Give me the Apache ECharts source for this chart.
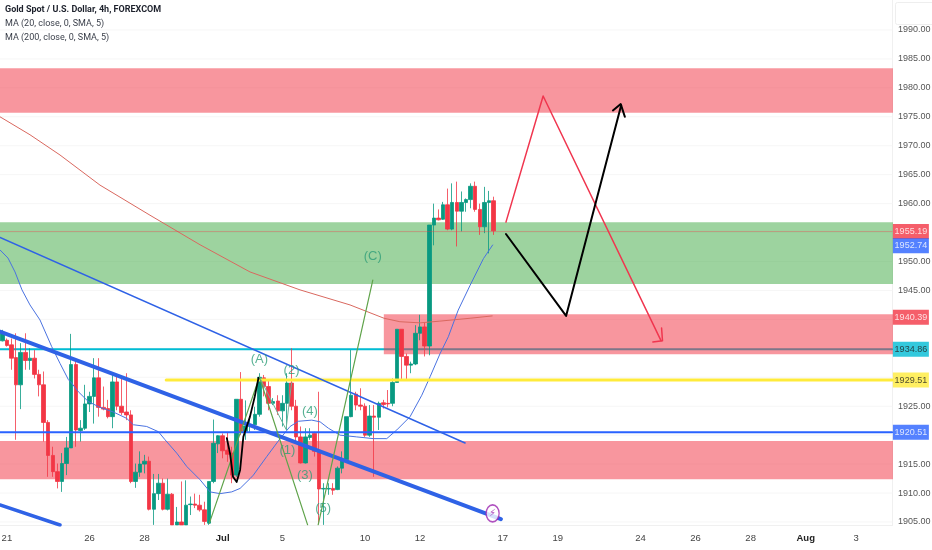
<!DOCTYPE html>
<html><head><meta charset="utf-8">
<style>html,body{margin:0;padding:0;background:#fff}#c{width:932px;height:550px}</style>
<script src="https://cdn.jsdelivr.net/npm/echarts@6/dist/echarts.min.js"></script>
</head><body><div id="c"></div>
<script>
// [open, close, low, high]
const candles = [
[1936.3,1937.6,1936.2,1938.2],[1936.4,1935.5,1935.3,1936.7],[1935.6,1933.3,1931.3,1936.7],[1933.4,1928.7,1919.2,1937.6],
[1928.7,1934.3,1924.5,1935.9],[1934.3,1932.9,1931.3,1937.6],[1932.9,1933.3,1931.3,1935.0],[1933.3,1930.5,1929.8,1934.7],
[1930.5,1928.7,1926.7,1931.3],[1928.7,1922.2,1918.9,1931],[1922.2,1916.5,1912.8,1922.6],[1916.5,1913.7,1912.8,1918],
[1913.7,1912,1910.8,1915.1],[1912,1915.1,1910.2,1916.9],[1915.1,1917.8,1913.1,1919.7],[1917.8,1932.2,1917.8,1937.5],
[1932.2,1920.9,1918,1933],[1920.8,1921.2,1918.9,1922.6],[1921.2,1925.4,1920.9,1928.7],[1925.4,1926.7,1924,1927.5],
[1926.7,1929.9,1922,1933.3],[1929.9,1924.8,1923.2,1933.3],[1924.8,1924.5,1924.3,1928.4],[1924.6,1923.2,1922.9,1926.1],
[1923.2,1929.2,1921.2,1930.4],[1929.2,1925,1924.3,1930.4],[1925,1923.9,1923.5,1930.1],[1924,1923.5,1922.6,1930.7],
[1923.5,1912,1911.7,1924.3],[1912,1913.6,1910.9,1915.1],[1913.6,1915,1912.8,1917.2],[1915,1915.5,1913.4,1916.6],
[1915.5,1907.2,1907,1916.3],[1907.2,1909.9,1904.5,1913.3],[1909.9,1911.7,1908.8,1913.3],[1911.7,1907.2,1907,1912.5],
[1907.2,1909.8,1907,1912.5],[1909.8,1904.5,1904.5,1910],[1904.5,1905,1904.5,1907.6],[1905,1904.5,1904.5,1912],
[1904.5,1907.9,1904.5,1912.2],[1908,1908.1,1906.2,1909.4],[1908.1,1907.9,1907.4,1909.9],[1907.9,1907.1,1906.8,1909.7],
[1907.1,1905.1,1904.5,1908.5],[1904.8,1912,1904.5,1912],[1912,1918.6,1911.7,1922.7],[1918.5,1919.9,1916.9,1920],
[1919.9,1917.3,1916,1920.3],[1917.4,1916.7,1915.4,1920.4],[1916.9,1913.1,1911.7,1918],[1913.1,1926.2,1912.8,1926.2],
[1926.2,1920.6,1920,1930.9],[1920.6,1921.6,1919.2,1926],[1921.6,1921.8,1920.5,1923],[1921.8,1923.6,1920.9,1924.9],
[1923.6,1930,1923.2,1930.7],[1929.9,1928.4,1926.7,1930.4],[1928.4,1925.5,1924.3,1929.5],[1925.5,1925.8,1925.2,1926.4],
[1925.9,1924.2,1923.5,1926.9],[1924.2,1925.5,1921.5,1926.9],[1925.5,1929,1920.9,1930.7],[1929,1925,1924.3,1935],
[1925,1919.7,1918.6,1926.1],[1919.7,1915.2,1915.1,1921.5],[1915.2,1919.7,1915.1,1921.2],[1919.6,1920,1919.2,1921.2],
[1920.3,1917.2,1916.3,1920.6],[1917.2,1910.7,1904.8,1927.5],[1910.7,1910.8,1904.5,1911.7],[1910.7,1910.8,1909.7,1911.7],
[1910.8,1910.5,1909.7,1911.7],[1910.6,1914.3,1910.5,1914.6],[1914.3,1915.8,1913.4,1917.2],[1915.8,1923.2,1915.7,1923.2],
[1923.2,1926.9,1923.1,1934.7],[1927.1,1925.2,1924.3,1927.5],[1925.2,1925,1924.3,1928.1],[1925,1920,1919.7,1925.5],
[1920,1923.3,1919.7,1925.2],[1923.3,1923.1,1912.8,1925.2],[1923.1,1925.5,1920.9,1925.8],[1925.6,1925.3,1924.6,1926.1],
[1925.5,1925.4,1924.8,1927.8],[1925.5,1929.1,1925,1929.8],[1929.1,1938.3,1929.1,1938.3],[1938.3,1933.6,1929.5,1938.3],
[1933.6,1932.1,1929.5,1934.1],[1932.1,1932.3,1930.7,1932.7],[1932.3,1937.6,1932.1,1939],[1937.6,1938.7,1936.4,1940.8],
[1938.7,1935.4,1933.6,1939.4],[1935.4,1956.3,1933.8,1956.3],[1956.3,1957.5,1952.8,1960],[1957.5,1957.2,1957.1,1959],
[1957.3,1959.8,1957.2,1960.3],[1959.8,1955.6,1955.4,1962.6],[1955.6,1960.2,1955.4,1963.5],[1960.2,1958.7,1952.6,1963.8],
[1958.7,1960.2,1955.2,1962.1],[1960.2,1960.7,1958.6,1960.9],[1960.7,1963,1959.2,1963.5],[1963,1959,1958.6,1963.8],
[1959,1956,1954.6,1960],[1956,1960.2,1954.9,1962.9],[1960.2,1960.5,1951.4,1962.2],[1960.5,1955.3,1954.6,1961.2]];
const slotCount = 203;
const xTickSlots = [1,19,31,48,61,79,91,109,121,139,151,163,175,186];
const xTickLabels = ['21','26','28','Jul','5','10','12','17','19','24','26','28','Aug','3'];
const yGridValues = [1905,1910,1915,1920,1925,1930,1935,1940,1945,1950,1955,1960,1965,1970,1975,1980,1985,1990];
const yTickLabels = [1905,1910,1915,1925,1945,1950,1960,1965,1970,1975,1980,1985,1990];
const ma20 = [[0,1952],[1.74,1950.6],[3.27,1948.2],[4.79,1945.1],[6.53,1942.5],[8.71,1939.9],[11.26,1935.3],[13.07,1932.4],[14.89,1929.6],[15.6,1929],[17.07,1927.5],[19.24,1925.8],[21.79,1924.8],[24.69,1924],[27.6,1922.9],[29.05,1921.8],[31.95,1921.5],[34.5,1920.6],[35.95,1919.2],[38.49,1916.9],[40.67,1914.6],[43.57,1912.3],[45.75,1910.2],[47.93,1909.9],[50.47,1910.2],[52.29,1910.8],[54.47,1912.5],[55.19,1913.1],[58.1,1916.3],[61,1919.4],[63.18,1921.5],[65,1922.4],[67.9,1922.6],[69.72,1922.3],[71.53,1921.2],[74.07,1920],[77.7,1919.7],[81.34,1919.4],[84.24,1919.4],[86.42,1920.9],[89.32,1923.2],[91.87,1926.9],[93.68,1930.1],[95.86,1934.1],[97.65,1937],[99.8,1941.6],[102.4,1945.9],[105.3,1950.5],[107.3,1952.85]];
const ma200 = [[0,1975],[6.53,1971.9],[13.07,1968.4],[21.78,1963.2],[32.67,1958],[43.56,1952.9],[54.45,1948.2],[65.35,1945.1],[76.24,1942.5],[83.64,1940.2],[87.1,1939.6],[91.5,1939.4],[95.8,1939.7],[102.4,1940.2],[107.2,1940.6]];
const thickTrend = [[0,1937.87],[109.1,1905.5]];
const lowerTrend = [[0,1907.93],[13.07,1904.48]];
const thinTrend = [[0,1954.15],[101.3,1918.64]];
const greenWaveDown = [[45.6,1904.8],[56.5,1930.05],[67,1904.5]];
const greenWaveUp = [[69.3,1904.5],[81.2,1946.8]];
const paleWave = [[56.5,1930.05],[62.3,1921],[63.5,1929]];
const blackCurve = [[49.4,1919.5],[50.1,1916.9],[50.75,1912.8],[51.55,1911.9],[52.3,1914],[53,1919.7],[54.45,1923.2],[55.5,1926.7],[56.3,1929.9]];
const redPath = [[110.2,1956.8],[118.3,1978.6],[144,1936.3]];
const redHead = [[142.2,1936.1],[144.3,1936.3],[144.1,1938.5]];
const blackPath = [[110.2,1954.75],[123.3,1940.6],[135.3,1977]];
const blackHead = [[133.5,1976.1],[135.2,1977.2],[136.1,1975]];
const hLineEnd = 194.3;
const cyanLevel = 1934.86, yellowLevel = 1929.51, blueLevel = 1920.51, lastClose = 1955.19, maLast = 1952.74, maPrev = 1940.39;
const redZones = [[0,194.5,1983.4,1975.7],[83.6,194.5,1940.9,1933.97],[0,194.5,1919,1912.4]];
const greenZones = [[0,194.5,1956.8,1946.1]];
const waveText = [['(A)',56.5,1933.1],['(2)',63.5,1931.2],['(4)',67.5,1924.1],['(1)',62.6,1917.3],['(3)',66.4,1913],['(5)',70.4,1907.3],['(C)',81.2,1950.8]];
const priceTags = [[lastClose,'#f23645','#fff'],[maLast,'#2962ff','#fff'],[maPrev,'#f23645','#fff'],[cyanLevel,'#00bcd4','#222'],[yellowLevel,'#ffeb3b','#222'],[blueLevel,'#2962ff','#fff']];
const tagSlot = 198.4;
const iconPoint = [107.3,1906.5];
const legendLines = ['Gold Spot / U.S. Dollar, 4h, FOREXCOM','MA (20, close, 0, SMA, 5)','MA (200, close, 0, SMA, 5)'];

const NARROW = '"Liberation Sans",sans-serif';
const categories = Array.from({length:slotCount},(_,i)=>{const k=xTickSlots.indexOf(i);return k>=0?xTickLabels[k]:'';});
function line(data,color,width,z,extra){return Object.assign({type:'line',xAxisIndex:1,yAxisIndex:0,data,symbol:'none',silent:true,z,
  lineStyle:{color,width,cap:'round',join:'round'},animation:false},extra||{});}
function zoneSeries(data,color,z){return {type:'custom',xAxisIndex:1,yAxisIndex:0,z,silent:true,animation:false,data,
  encode:{x:[0,1],y:[2,3]},
  renderItem(p,api){const a=api.coord([api.value(0),api.value(2)]),b=api.coord([api.value(1),api.value(3)]);
    return {type:'rect',shape:{x:a[0],y:a[1],width:b[0]-a[0],height:b[1]-a[1]},style:{fill:color}};}};}
const gridData=[];yGridValues.forEach(v=>{gridData.push([0,v],[hLineEnd,v],[null,null]);});

const chart=echarts.init(document.getElementById('c'),null,{renderer:'canvas'});
chart.setOption({
  animation:false,backgroundColor:'#fff',
  title:legendLines.map((t,i)=>({text:t,left:5,top:[5,19,33][i],padding:0,
    textStyle:{fontFamily:'Roboto,sans-serif',fontSize:9,fontWeight:i?'normal':'bold',color:i?'#3a3f4a':'#1e222d'}})),
  grid:{left:0,right:0,top:0,bottom:25,containLabel:false,outerBoundsMode:'none'},
  xAxis:[
   {type:'category',data:categories,boundaryGap:true,axisTick:{show:false},splitLine:{show:false},
    axisLine:{lineStyle:{color:'#f0f0f0'}},
    axisLabel:{interval:0,margin:8,fontFamily:NARROW,fontSize:9.5,color:'#444',
      formatter:v=>(v==='Jul'||v==='Aug')?'{b|'+v+'}':v,
      rich:{b:{fontFamily:NARROW,fontSize:9.5,fontWeight:'bold',color:'#222'}}}},
   {type:'value',min:0,max:slotCount,show:false}
  ],
  yAxis:[{type:'value',position:'right',offset:-40,min:1904.48,max:1995.18,scale:true,
    axisLine:{show:true,onZero:false,lineStyle:{color:'#f0f0f0'}},axisTick:{show:false},splitLine:{show:false},
    axisLabel:{customValues:yTickLabels,margin:6,fontFamily:NARROW,fontSize:9,color:'#555',formatter:v=>v.toFixed(2)}}],
  graphic:[
    {type:'rect',z:1000,silent:true,shape:{x:895.5,y:2.5,width:40,height:22,r:2},style:{fill:'#fff',stroke:'#eeeeee',lineWidth:1}},
    {type:'rect',z:1000,silent:true,shape:{x:893,y:525,width:39,height:25},style:{fill:'#fff'}}
  ],
  series:[
    line(gridData,'#f6f6f6',1,1,{connectNulls:false}),
    line([[0,cyanLevel],[hLineEnd,cyanLevel]],'#00bcd4',2,2),
    zoneSeries(redZones,'rgba(242,54,69,0.52)',3),
    zoneSeries(greenZones,'rgba(76,175,80,0.55)',3),
    {type:'candlestick',xAxisIndex:0,yAxisIndex:0,data:candles,barWidth:4,z:4,silent:true,animation:false,
      itemStyle:{color:'#089981',color0:'#f23645',borderColor:'#089981',borderColor0:'#f23645',borderWidth:0.8}},
    line(ma20,'#4a72e0',1,5),
    line(ma200,'#d9685f',1,5),
    line([[0,lastClose],[hLineEnd,lastClose]],'rgba(242,54,69,0.35)',1,5),
    line([[36.2,yellowLevel],[hLineEnd,yellowLevel]],'#ffeb3b',3,5),
    line([[0,blueLevel],[hLineEnd,blueLevel]],'#2962ff',2,5),
    line(thinTrend,'#2f62e6',1.5,5),
    line(thickTrend,'#2f62e6',4,5),
    line(lowerTrend,'#2f62e6',3.5,5),
    line(greenWaveDown,'#5fa34a',1.2,6),
    line(greenWaveUp,'#5fa34a',1.2,6),
    line(paleWave,'#6bb59a',1,6),
    line(blackCurve,'#000',1.8,6),
    line(redPath,'#f0364f',1.5,6),
    line(redHead,'#f0364f',1.5,6),
    line(blackPath,'#000',2,6),
    line(blackHead,'#000',2,6),
    {type:'scatter',xAxisIndex:1,yAxisIndex:0,z:7,silent:true,animation:false,symbolSize:1,itemStyle:{color:'rgba(0,0,0,0)'},
      data:waveText.map(d=>({value:[d[1],d[2]],name:d[0]})),
      label:{show:true,position:'inside',formatter:p=>p.name,fontFamily:NARROW,fontSize:13,
        color:'#2e9e78'}},
    {type:'scatter',xAxisIndex:1,yAxisIndex:0,z:8,silent:true,animation:false,symbol:'rect',symbolSize:[36,15],
      data:priceTags.map(d=>({value:[tagSlot,d[0]],itemStyle:{color:d[1]},label:{color:d[2]}})),
      label:{show:true,position:'inside',fontFamily:NARROW,fontSize:9,formatter:p=>p.value[1].toFixed(2)}},
    {type:'scatter',xAxisIndex:1,yAxisIndex:0,z:8,silent:true,animation:false,symbol:'circle',symbolSize:[13,17],
      data:[iconPoint],itemStyle:{color:'#fff',borderColor:'#9c27b0',borderWidth:1.5},
      label:{show:true,position:'inside',formatter:'\u26A1',fontFamily:'"DejaVu Sans"',fontSize:10,color:'#9c27b0'}}
  ]
});
</script></body></html>
